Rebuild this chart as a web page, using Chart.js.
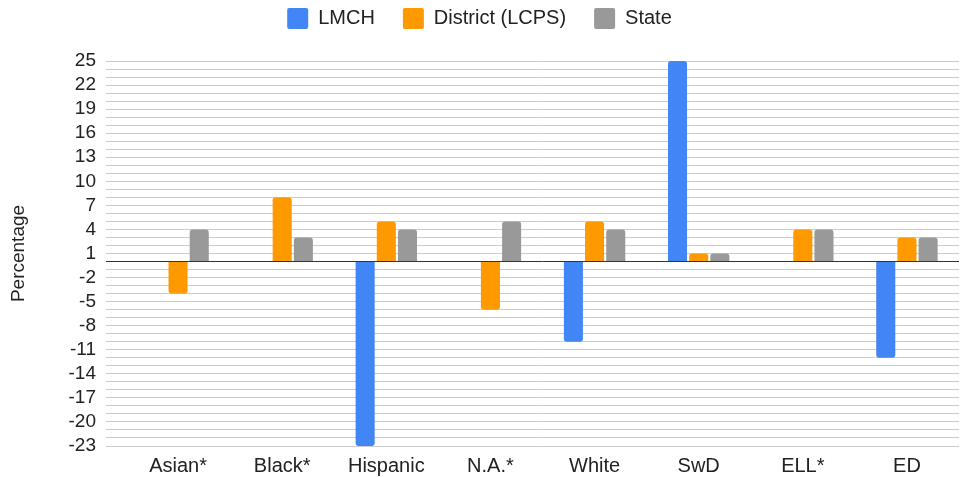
<!DOCTYPE html>
<html>
<head>
<meta charset="utf-8">
<script src="https://cdn.jsdelivr.net/npm/chart.js@4"></script>
<style>
  html, body { margin: 0; padding: 0; background: #fff; }
  #wrap { width: 969px; height: 477px; }
</style>
</head>
<body>
<div id="wrap"><canvas id="gapChart"></canvas></div>
<script>
const categories = ['Asian*', 'Black*', 'Hispanic', 'N.A.*', 'White', 'SwD', 'ELL*', 'ED'];
const lmch = [null, null, -23, null, -10, 25, null, -12];
const district = [-4, 8, 5, -6, 5, 1, 4, 3];
const state = [4, 3, 4, 5, 4, 1, 4, 3];
const yMin = -23;
const yMax = 25;
const labelStep = 3;

Chart.defaults.font.family = '"Liberation Sans", Arial, sans-serif';

// extra room under the legend
const legendMargin = {
    id: 'legendMargin',
    beforeInit(chart) {
        const fit = chart.legend.fit;
        chart.legend.fit = function () {
            fit.bind(chart.legend)();
            this.height += 22;
        };
    }
};

var ctx = document.getElementById('gapChart').getContext('2d');

const gapChart = new Chart(ctx, {
    type: 'bar',
    data: {
        labels: categories,
        datasets: [{
            label: 'LMCH',
            data: lmch,
            backgroundColor: '#4285f4',
            borderRadius: 3,
        },{
            label: 'District (LCPS)',
            data: district,
            backgroundColor: '#ff9900',
            borderRadius: 3,
        },{
            label: 'State',
            data: state,
            backgroundColor: '#999999',
            borderRadius: 3,
        }]
    },
    plugins: [legendMargin],
    options: {
        responsive: true,
        maintainAspectRatio: false,
        animation: false,
        categoryPercentage: 0.61,
        barPercentage: 0.9,
        layout: {
            padding: { top: -20, right: 10, bottom: -9, left: 0 }
        },
        plugins: {
            legend: {
                position: 'top',
                labels: {
                    font: { size: 20 },
                    color: '#222',
                    boxWidth: 21,
                    boxHeight: 21,
                    padding: 28,
                    useBorderRadius: true,
                    borderRadius: 2,
                }
            },
            tooltip: { enabled: false }
        },
        scales: {
            x: {
                grid: { display: false, drawTicks: false },
                border: { display: false },
                ticks: {
                    font: { size: 20 },
                    color: '#222',
                    padding: 8,
                }
            },
            y: {
                min: yMin,
                max: yMax,
                border: { display: false },
                afterFit: (scale) => { scale.width = 126; },
                grid: {
                    color: (c) => c.tick && c.tick.value === 0 ? '#333' : '#cccccc',
                    tickLength: 20,
                    lineWidth: 1,
                },
                ticks: {
                    stepSize: 1,
                    autoSkip: false,
                    font: { size: 19 },
                    color: '#222',
                    padding: 10,
                    callback: (v) => (yMax - v) % labelStep === 0 ? v : ''
                },
                title: {
                    display: true,
                    text: 'Percentage',
                    font: { size: 19 },
                    color: '#222',
                    padding: { top: 7, bottom: 0 }
                }
            }
        }
    }
})
</script>
</body>
</html>
